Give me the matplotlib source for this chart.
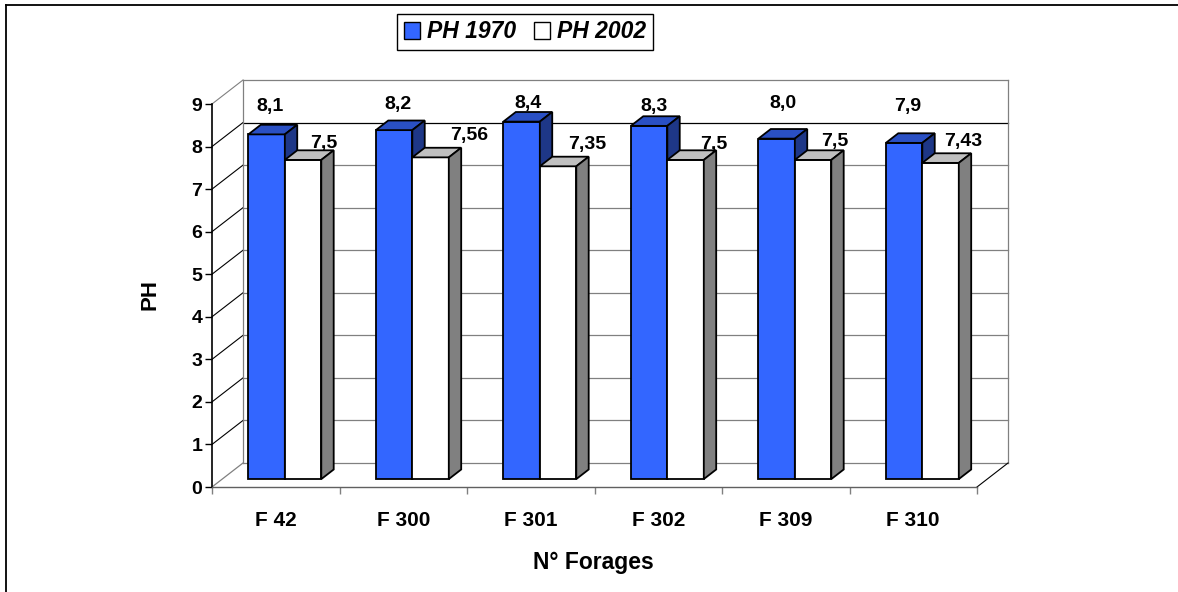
import numpy as np
import matplotlib.pyplot as plt
from matplotlib.patches import Polygon, Patch
from matplotlib.lines import Line2D

# Données
forages = ['F 42', 'F 300', 'F 301', 'F 302', 'F 309', 'F 310']
ph_1970 = [8.1, 8.2, 8.4, 8.3, 8.0, 7.9]
ph_2002 = [7.5, 7.56, 7.35, 7.5, 7.5, 7.43]
yticks = list(range(10))

# Position des étiquettes (décalage dans la catégorie, hauteur)
lab70_dx = [0.455, 0.456, 0.476, 0.467, 0.478, 0.459]
lab70_y = [8.93, 8.98, 9.02, 8.94, 9.02, 8.93]
lab02_dx = [0.878, 1.016, 0.939, 0.937, 0.886, 0.890]
lab02_y = [8.08, 8.27, 8.06, 8.06, 8.11, 8.11]

W, H = 1178, 592
DX, DY = 31 / 127.5, 24 / 42.55   # profondeur du "3D" en unités des données
Z0, Z1 = 0.33, 0.73               # profondeur des barres
BW = 0.286
FONT = 'Liberation Sans'

def proj(x, y, z):
    return (x + z * DX, y + z * DY)

def barre(ax, x0, h, c_face, c_top, c_side):
    x1 = x0 + BW
    face = [proj(x0, 0, Z0), proj(x1, 0, Z0), proj(x1, h, Z0), proj(x0, h, Z0)]
    top = [proj(x0, h, Z0), proj(x1, h, Z0), proj(x1, h, Z1), proj(x0, h, Z1)]
    side = [proj(x1, 0, Z0), proj(x1, 0, Z1), proj(x1, h, Z1), proj(x1, h, Z0)]
    for pts, c in [(face, c_face), (top, c_top), (side, c_side)]:
        ax.add_patch(Polygon(pts, closed=True, fc=c, ec='black', lw=1.3,
                             clip_on=False, zorder=5, joinstyle='miter'))

fig = plt.figure(figsize=(W / 100, H / 100), dpi=100)
ax = fig.add_axes([212 / W, (H - 487) / H, 765 / W, 383 / H])
ax.set_xlim(0, 6)
ax.set_ylim(0, 9)
ax.patch.set_visible(False)

# Murs et sol
n = len(forages)
gris = '#808080'
for k in yticks[1:]:
    col = 'black' if k == 8 else gris
    ax.plot([DX, n + DX], [k + DY, k + DY], color=col, lw=0.9, clip_on=False, zorder=1)
    ax.plot([0, DX], [k, k + DY], color='black' if k < 9 else gris, lw=0.8,
            clip_on=False, zorder=1)
ax.plot([DX, n + DX], [DY, DY], color=gris, lw=0.9, clip_on=False, zorder=1)
ax.plot([0, DX], [0, DY], color=gris, lw=0.9, clip_on=False, zorder=1)
ax.plot([DX, DX], [DY, 9 + DY], color=gris, lw=0.9, clip_on=False, zorder=1)
ax.plot([n + DX, n + DX], [DY, 9 + DY], color=gris, lw=0.9, clip_on=False, zorder=1)
ax.plot([n, n + DX], [0, DY], color='black', lw=0.8, clip_on=False, zorder=1)

# Barres
for i in range(n):
    barre(ax, i + 0.205, ph_1970[i], '#3366FF', '#2A50C4', '#1E3787')
    barre(ax, i + 0.205 + BW, ph_2002[i], '#FFFFFF', '#C0C0C0', '#808080')

# Étiquettes des valeurs
for i in range(n):
    t70 = f'{ph_1970[i]:.1f}'.replace('.', ',')
    t02 = str(ph_2002[i]).replace('.', ',')
    ax.text(i + lab70_dx[i], lab70_y[i], t70, ha='center', va='center',
            fontsize=14, fontweight='bold', family=FONT, zorder=6)
    ax.text(i + lab02_dx[i], lab02_y[i], t02, ha='center', va='center',
            fontsize=14, fontweight='bold', family=FONT, zorder=6)

# Axes
for s in ['top', 'right']:
    ax.spines[s].set_visible(False)
ax.spines['left'].set_color('black')
ax.spines['left'].set_linewidth(1.2)
ax.spines['bottom'].set_color('#606060')
ax.spines['bottom'].set_linewidth(1.0)

ax.set_yticks(yticks)
ax.set_yticklabels([str(v) for v in yticks], family=FONT, fontweight='bold', fontsize=14)
ax.tick_params(axis='y', length=5, width=1, pad=2, color='black')

ax.set_xticks(np.arange(n) + 0.5)
ax.set_xticklabels(forages, family=FONT, fontweight='bold', fontsize=15)
ax.set_xticks(np.arange(n + 1), minor=True)
ax.tick_params(axis='x', which='major', length=0, pad=17)
ax.tick_params(axis='x', which='minor', length=5, width=1, color=gris)

fig.text(150 / W, 1 - 295 / H, 'PH', rotation=90, ha='center', va='center',
         family=FONT, fontweight='bold', fontsize=16)
fig.text(593 / W, 1 - 563 / H, 'N° Forages', ha='center', va='center',
         family=FONT, fontweight='bold', fontsize=16.5)

# Légende
handles = [Patch(fc='#3366FF', ec='black', lw=1), Patch(fc='white', ec='black', lw=1)]
leg = fig.legend(handles, ['PH 1970', 'PH 2002'], loc='center',
                 bbox_to_anchor=(525 / W, 1 - 32 / H), ncol=2, frameon=True,
                 fancybox=False, edgecolor='black', framealpha=1,
                 prop=dict(family=FONT, weight='bold', style='italic', size=16.5),
                 handlelength=0.7, handleheight=0.7, handletextpad=0.3,
                 columnspacing=0.8, borderpad=0.3)
leg.get_frame().set_linewidth(1.0)

# Cadre du graphique (haut et gauche)
fig.add_artist(Line2D([6 / W, 1], [1 - 5 / H, 1 - 5 / H], transform=fig.transFigure,
                      color='black', lw=1.3))
fig.add_artist(Line2D([6 / W, 6 / W], [0, 1 - 5 / H], transform=fig.transFigure,
                      color='black', lw=1.3))

fig.savefig('out.png', dpi=100)
